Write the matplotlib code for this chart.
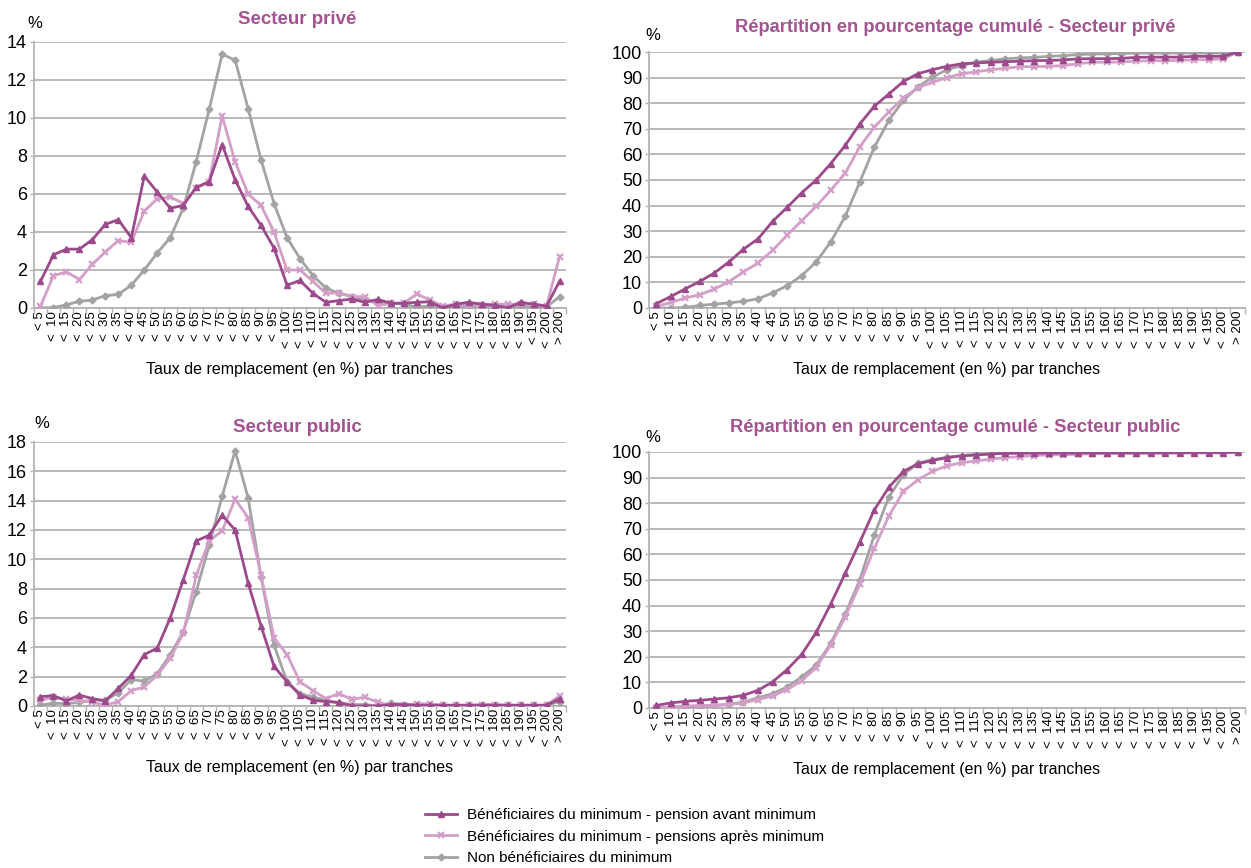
import numpy as np
import matplotlib
matplotlib.use("Agg")
import matplotlib.pyplot as plt
from matplotlib.lines import Line2D

plt.rcParams['font.family'] = ['Liberation Sans Narrow', 'Liberation Sans', 'DejaVu Sans']

# Tranches de taux de remplacement (en %)
tranches = ["< 5"] + [f"<  {v}" for v in range(10, 195, 5)] + ["< 195", "<  200", "> 200"]

# Secteur privé - distribution (en %)
prive_avant = [1.4, 2.8, 3.1, 3.1, 3.6, 4.4, 4.65, 3.7, 6.95, 6.1, 5.25, 5.4, 6.35, 6.65, 8.6, 6.75,
               5.35, 4.35, 3.15, 1.2, 1.45, 0.77, 0.3, 0.39, 0.47, 0.3, 0.45, 0.25, 0.25, 0.3, 0.33,
               0.0, 0.2, 0.3, 0.2, 0.15, 0.0, 0.3, 0.2, 0.1, 1.4]
prive_apres = [0.1, 1.7, 1.9, 1.5, 2.3, 2.95, 3.55, 3.45, 5.1, 5.75, 5.85, 5.5, 6.3, 6.65, 10.1, 7.7,
               6.0, 5.4, 4.0, 2.0, 2.0, 1.4, 0.77, 0.8, 0.6, 0.6, 0.12, 0.25, 0.25, 0.74, 0.42,
               0.1, 0.2, 0.15, 0.15, 0.2, 0.2, 0.2, 0.2, 0.1, 2.7]
prive_non = [0.0, 0.02, 0.17, 0.35, 0.42, 0.65, 0.72, 1.2, 2.0, 2.9, 3.7, 5.25, 7.7, 10.45, 13.35, 13.05,
             10.5, 7.8, 5.5, 3.7, 2.6, 1.7, 1.05, 0.77, 0.6, 0.42, 0.33, 0.25, 0.2, 0.05, 0.1,
             0.07, 0.07, 0.07, 0.07, 0.07, 0.07, 0.07, 0.07, 0.05, 0.6]

# Secteur privé - pourcentage cumulé
prive_cum_avant = [1.7, 4.5, 7.5, 10.4, 13.7, 18.0, 23.0, 27.0, 33.8, 39.3, 45.0, 50.0, 56.4, 63.5, 71.9, 78.8,
                   83.6, 88.5, 91.5, 93.1, 94.4, 95.4, 95.7, 96.0, 96.2, 96.4, 96.6, 96.7, 96.9, 97.3, 97.4,
                   97.4, 97.5, 97.9, 98.0, 98.0, 98.0, 98.3, 98.3, 98.3, 100.0]
prive_cum_apres = [0.6, 2.2, 3.9, 5.2, 7.4, 10.3, 14.1, 17.6, 22.5, 28.4, 34.1, 39.7, 46.0, 52.7, 63.0, 70.6,
                   76.6, 82.0, 86.1, 88.2, 90.0, 91.5, 92.2, 93.1, 93.6, 94.3, 94.3, 94.4, 94.7, 95.4, 96.0,
                   96.0, 96.1, 96.4, 96.6, 96.6, 96.7, 97.0, 97.0, 97.3, 100.0]
prive_cum_non = [0.0, 0.0, 0.2, 1.0, 1.5, 2.0, 2.6, 3.6, 5.9, 8.7, 12.6, 18.0, 25.8, 35.8, 49.2, 62.8,
                 73.3, 81.1, 86.3, 90.2, 93.1, 94.7, 96.0, 96.7, 97.3, 97.7, 97.9, 98.3, 98.6, 99.0, 99.2,
                 99.3, 99.4, 99.6, 99.6, 99.6, 99.6, 99.6, 99.6, 99.6, 100.0]

# Secteur public - distribution (en %)
public_avant = [0.64, 0.7, 0.35, 0.75, 0.5, 0.35, 1.2, 2.1, 3.5, 3.95, 6.0, 8.6, 11.25, 11.65, 13.0, 12.0,
                8.4, 5.45, 2.7, 1.65, 0.75, 0.4, 0.3, 0.25, 0.0, 0.0, 0.0, 0.1, 0.1, 0.05, 0.05,
                0.05, 0.05, 0.05, 0.05, 0.05, 0.05, 0.05, 0.05, 0.05, 0.5]
public_apres = [0.4, 0.6, 0.45, 0.4, 0.25, 0.05, 0.3, 1.05, 1.3, 2.1, 3.25, 4.95, 8.9, 11.25, 11.95, 14.1,
                12.85, 8.9, 4.65, 3.5, 1.65, 1.05, 0.5, 0.85, 0.45, 0.6, 0.25, 0.05, 0.05, 0.15, 0.15,
                0.05, 0.05, 0.05, 0.05, 0.05, 0.05, 0.05, 0.05, 0.05, 0.7]
public_non = [0.05, 0.2, 0.15, 0.25, 0.4, 0.4, 0.9, 1.8, 1.7, 2.2, 3.5, 5.05, 7.8, 10.95, 14.3, 17.4,
              14.2, 8.8, 4.15, 1.65, 0.85, 0.6, 0.4, 0.2, 0.1, 0.1, 0.0, 0.2, 0.1, 0.1, 0.1,
              0.05, 0.05, 0.05, 0.1, 0.1, 0.05, 0.05, 0.05, 0.05, 0.3]

# Secteur public - pourcentage cumulé
public_cum_avant = [1.0, 2.0, 2.6, 3.0, 3.5, 4.0, 5.0, 6.9, 10.2, 15.0, 20.9, 29.5, 40.6, 52.6, 64.8, 77.4,
                    86.2, 92.4, 95.4, 96.7, 97.8, 98.5, 98.8, 99.2, 99.5, 99.5, 99.6, 99.6, 99.6, 99.6, 99.7,
                    99.7, 99.7, 99.7, 99.7, 99.7, 99.8, 99.8, 99.8, 99.8, 100.0]
public_cum_apres = [0.0, 0.4, 0.8, 1.0, 1.1, 1.4, 2.0, 3.3, 4.7, 7.2, 10.6, 15.8, 24.5, 35.6, 48.3, 62.4,
                    75.0, 84.6, 89.2, 92.4, 94.6, 95.8, 96.5, 97.2, 97.8, 98.2, 98.6, 98.9, 98.9, 99.1, 99.3,
                    99.3, 99.4, 99.4, 99.5, 99.5, 99.5, 99.6, 99.6, 99.6, 100.0]
public_cum_non = [0.0, 0.2, 0.4, 0.6, 1.0, 1.4, 2.3, 4.0, 5.6, 8.2, 12.1, 16.7, 25.2, 36.7, 50.0, 67.6,
                  82.4, 91.1, 95.7, 97.0, 97.9, 98.6, 99.1, 99.4, 99.6, 99.7, 99.7, 99.8, 99.8, 99.8, 99.8,
                  99.8, 99.8, 99.8, 99.9, 99.9, 99.9, 99.9, 99.9, 99.9, 100.0]

series_labels = ["Bénéficiaires du minimum - pension avant minimum",
                 "Bénéficiaires du minimum - pensions après minimum",
                 "Non bénéficiaires du minimum"]

C_AVANT = "#9c4a8b"
C_APRES = "#d39fc8"
C_NON = "#a3a3a3"
C_TITLE = "#a3538f"
C_GRID = "#b3b3b3"
STYLES = [dict(color=C_AVANT, marker="^", markersize=5),
          dict(color=C_APRES, marker="x", markersize=4.5, markeredgewidth=1.6),
          dict(color=C_NON, marker="D", markersize=3.5)]

W, H = 1251, 868
fig = plt.figure(figsize=(W / 100, H / 100), dpi=100)


def px_axes(x0, y0, x1, y1):
    return fig.add_axes([x0 / W, 1 - y1 / H, (x1 - x0) / W, (y1 - y0) / H])


def draw_panel(ax, data, ymax, ystep, title, title_xy, pct_xy, title_size):
    x = np.arange(len(tranches))
    # Non bénéficiaires drawn first, then après, then avant on top
    for idx in (2, 1, 0):
        ax.plot(x, data[idx], linewidth=2.0, zorder=3 + (2 - idx), **STYLES[idx])
    ax.set_xlim(-0.5, len(tranches) - 0.5)
    ax.set_ylim(0, ymax)
    ax.set_yticks(np.arange(0, ymax + 0.1, ystep))
    ax.yaxis.grid(True, color=C_GRID, linewidth=1.3)
    ax.set_axisbelow(True)
    for s in ("top", "right"):
        ax.spines[s].set_visible(False)
    for s in ("left", "bottom"):
        ax.spines[s].set_color(C_GRID)
        ax.spines[s].set_linewidth(1.3)
    ax.set_xticks(x)
    ax.set_xticklabels(tranches, rotation=90, fontsize=9.5, va="top", ha="center")
    ax.set_xticks(np.arange(-0.5, len(tranches), 1.0), minor=True)
    ax.tick_params(axis="x", which="major", length=0, pad=2)
    ax.tick_params(axis="x", which="minor", length=4, color=C_GRID, width=1)
    ax.tick_params(axis="y", length=3, color=C_GRID, width=1, labelsize=13, pad=2)
    ax.set_xlabel("Taux de remplacement (en %) par tranches", fontsize=11.5, labelpad=10)
    fig.text(title_xy[0] / W, 1 - title_xy[1] / H, title, ha="center", va="center",
             fontsize=title_size, fontweight="bold", color=C_TITLE)
    fig.text(pct_xy[0] / W, 1 - pct_xy[1] / H, "%", ha="center", va="center", fontsize=12)


ax1 = px_axes(34, 42, 566, 308)
draw_panel(ax1, [prive_avant, prive_apres, prive_non], 14, 2, "Secteur privé", (297, 19), (35, 24), 13.5)

ax2 = px_axes(649, 52, 1245, 308)
draw_panel(ax2, [prive_cum_avant, prive_cum_apres, prive_cum_non], 100, 10,
           "Répartition en pourcentage cumulé - Secteur privé", (955, 28), (653, 36), 13.2)

ax3 = px_axes(34, 442, 566, 706)
draw_panel(ax3, [public_avant, public_apres, public_non], 18, 2, "Secteur public", (297, 427), (42, 424), 13.5)

ax4 = px_axes(649, 452, 1245, 708)
draw_panel(ax4, [public_cum_avant, public_cum_apres, public_cum_non], 100, 10,
           "Répartition en pourcentage cumulé - Secteur public", (955, 427), (653, 437), 13.2)

handles = [Line2D([], [], linewidth=2.0, **STYLES[i]) for i in range(3)]
fig.legend(handles, series_labels, loc="upper left", bbox_to_anchor=(425 / W, 1 - 808 / H),
           frameon=False, fontsize=11, handlelength=2.1, handletextpad=0.65,
           labelspacing=0.5, borderaxespad=0, borderpad=0)

fig.savefig("out.png", dpi=100, facecolor="white")
